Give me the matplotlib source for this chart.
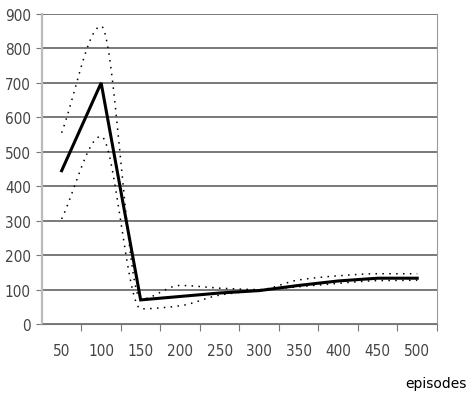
import matplotlib
matplotlib.use("Agg")

import numpy as np
import matplotlib.pyplot as plt

episodes = [50, 100, 150, 200, 250, 300, 350, 400, 450, 500]
mean_reward = [445, 700, 70, 80, 90, 97, 112, 125, 133, 133]
upper_band = [555, 865, 72, 112, 104, 100, 128, 140, 146, 146]
lower_band = [305, 545, 44, 53, 84, 98, 108, 118, 126, 127]


def smooth(xs, ys, n=25):
    # monotone cubic (Fritsch-Carlson) curve through the points
    xs = np.asarray(xs, float)
    ys = np.asarray(ys, float)
    h = np.diff(xs)
    d = np.diff(ys) / h
    m = np.zeros_like(ys)
    m[0], m[-1] = d[0], d[-1]
    for i in range(1, len(ys) - 1):
        if d[i - 1] * d[i] > 0:
            w1 = 2 * h[i] + h[i - 1]
            w2 = h[i] + 2 * h[i - 1]
            m[i] = (w1 + w2) / (w1 / d[i - 1] + w2 / d[i])
    out_x, out_y = [], []
    t = np.linspace(0, 1, n, endpoint=False)
    for i in range(len(xs) - 1):
        h00 = 2 * t**3 - 3 * t**2 + 1
        h10 = t**3 - 2 * t**2 + t
        h01 = -2 * t**3 + 3 * t**2
        h11 = t**3 - t**2
        out_x.extend(xs[i] + t * h[i])
        out_y.extend(h00 * ys[i] + h10 * h[i] * m[i]
                     + h01 * ys[i + 1] + h11 * h[i] * m[i + 1])
    out_x.append(xs[-1])
    out_y.append(ys[-1])
    return out_x, out_y


fig = plt.figure(figsize=(4.76, 4.02), dpi=100)
ax = fig.add_axes([0.088, 0.1915, 0.83, 0.7712])

pos = np.arange(len(episodes)) + 0.5

for band in (upper_band, lower_band):
    sx, sy = smooth(pos, band)
    ax.plot(sx, sy, color="black", lw=1.1, linestyle=(0, (1, 3.5)))

ax.plot(pos, mean_reward, color="black", lw=2.2, solid_joinstyle="miter")

ax.set_xlim(0, len(episodes))
ax.set_ylim(0, 900)
ax.set_yticks(range(0, 901, 100))
ax.yaxis.grid(True, color="#555555", lw=1.1)
ax.set_axisbelow(True)

tick_font = dict(family=["Liberation Sans Narrow", "DejaVu Sans"],
                 fontstretch="condensed", fontsize=11, color="#444444")

ax.set_xticks(np.arange(1, len(episodes) + 1))
ax.set_xticklabels([])
ax.set_xticks(pos, minor=True)
ax.set_xticklabels([str(e) for e in episodes], minor=True, **tick_font)
ax.set_yticklabels([str(v) for v in range(0, 901, 100)], **tick_font)
ax.tick_params(axis="x", which="minor", length=0, pad=14)
ax.tick_params(axis="x", which="major", length=5, color="#777777")
ax.tick_params(axis="y", length=4, color="#777777", pad=4)

ax.spines["top"].set_visible(False)
ax.spines["left"].set_color("#bbbbbb")
ax.spines["left"].set_linewidth(1.6)
ax.spines["bottom"].set_color("#777777")
ax.spines["right"].set_color("#999999")

fig.text(0.915, 0.045, "episodes", ha="center", va="center", fontsize=10)

plt.savefig("out.png", dpi=100)
plt.close()
